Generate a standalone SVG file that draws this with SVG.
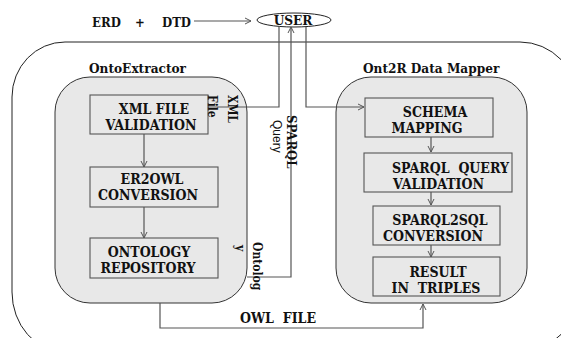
<svg xmlns="http://www.w3.org/2000/svg" width="561" height="338" viewBox="0 0 561 338">
<style>
  .t{font-family:"DejaVu Serif Condensed","DejaVu Serif","Liberation Serif",serif;font-weight:bold;fill:#111}
  .bx{font-size:14px}
  .mid{text-anchor:middle}
  .ttl{font-size:13.5px}
  .lbl{font-size:12px}
  .sans{font-family:"Liberation Sans",Arial,sans-serif;font-size:12px;fill:#111}
  .cont{fill:#e8e8e8;stroke:#333;stroke-width:1}
  .box{fill:#e8e8e8;stroke:#555;stroke-width:1.1}
  .cn{fill:none;stroke:#555;stroke-width:1.2}
  .pre{white-space:pre}
</style>
<defs>
  <marker id="ah" markerWidth="8" markerHeight="8" refX="7" refY="4" orient="auto" markerUnits="userSpaceOnUse">
    <path d="M1,1 L7,4 L1,7" fill="none" stroke="#555" stroke-width="1"/>
  </marker>
</defs>
<rect width="561" height="338" fill="#fff"/>
<path d="M65,42 H520 A58,60 0 0 1 578,102 V292 A58,60 0 0 1 520,352 H65 A53,60 0 0 1 12,292 V97 A53,55 0 0 1 65,42 Z" fill="none" stroke="#222" stroke-width="1"/>

<g id="onto-extractor">
  <rect class="cont" x="55" y="77" width="192" height="226" rx="35"/>
  <text class="t ttl" x="89" y="73">OntoExtractor</text>
</g>
<g id="ont2r-mapper">
  <rect class="cont" x="336" y="77" width="191" height="226" rx="35"/>
  <text class="t ttl" x="363" y="73">Ont2R Data Mapper</text>
</g>

<g id="user">
  <ellipse cx="294" cy="20" rx="37" ry="7" fill="#fff" stroke="#222" stroke-width="1"/>
  <text class="t mid" x="293" y="25" font-size="13.5">USER</text>
</g>
<g id="erd-dtd">
  <text class="t" x="92" y="27" font-size="13">ERD</text>
  <text class="t" x="135" y="27" font-size="13">+</text>
  <text class="t" x="162" y="27" font-size="13">DTD</text>
</g>

<g id="xml-validation">
  <rect class="box" x="90" y="95" width="118" height="39"/>
  <text class="t bx mid" x="154" y="114">XML FILE</text>
  <text class="t bx mid" x="151" y="130">VALIDATION</text>
</g>
<g id="er2owl">
  <rect class="box" x="90" y="167" width="128" height="40"/>
  <text class="t bx mid" x="152" y="184">ER2OWL</text>
  <text class="t bx mid" x="148" y="200">CONVERSION</text>
</g>
<g id="ontology-repo">
  <rect class="box" x="90" y="238" width="128" height="40"/>
  <text class="t bx mid" x="149" y="257">ONTOLOGY</text>
  <text class="t bx mid" x="148" y="273">REPOSITORY</text>
</g>

<g id="schema-mapping">
  <rect class="box" x="365" y="98" width="128" height="39"/>
  <text class="t bx mid" x="435" y="117">SCHEMA</text>
  <text class="t bx mid" x="427" y="133">MAPPING</text>
</g>
<g id="sparql-validation">
  <rect class="box" x="364" y="153" width="148" height="39"/>
  <text class="t bx pre" x="392" y="173">SPARQL  QUERY</text>
  <text class="t bx" x="393" y="189">VALIDATION</text>
</g>
<g id="sparql2sql">
  <rect class="box" x="373" y="206" width="127" height="39"/>
  <text class="t bx mid" x="440" y="225">SPARQL2SQL</text>
  <text class="t bx mid" x="433" y="241">CONVERSION</text>
</g>
<g id="result-triples">
  <rect class="box" x="373" y="257" width="127" height="39"/>
  <text class="t bx mid" x="438" y="277">RESULT</text>
  <text class="t bx mid pre" x="436" y="293">IN  TRIPLES</text>
</g>

<g id="connectors">
  <line class="cn" x1="194" y1="21" x2="251" y2="21" marker-end="url(#ah)"/>
  <polyline class="cn" points="279,27 279,107 208,107"/>
  <polyline class="cn" points="247,277 291,277 291,27" marker-end="url(#ah)"/>
  <polyline class="cn" points="306,27 306,107 364,107" marker-end="url(#ah)"/>
  <line class="cn" x1="144" y1="134" x2="144" y2="167" marker-end="url(#ah)"/>
  <line class="cn" x1="144" y1="207" x2="144" y2="238" marker-end="url(#ah)"/>
  <line class="cn" x1="431" y1="137" x2="431" y2="152" marker-end="url(#ah)"/>
  <line class="cn" x1="431" y1="192" x2="431" y2="205" marker-end="url(#ah)"/>
  <line class="cn" x1="431" y1="245" x2="431" y2="257" marker-end="url(#ah)"/>
  <polyline class="cn" points="160,303 160,328 423,328 423,304" marker-end="url(#ah)"/>
  <text class="t pre" x="240" y="323" font-size="14">OWL  FILE</text>
  <text class="t lbl" transform="translate(228,95) rotate(90)">XML</text>
  <text class="t lbl" transform="translate(208,95) rotate(90)">File</text>
  <text class="t" font-size="13" transform="translate(287,115) rotate(90)">SPARQL</text>
  <text class="sans" transform="translate(273,120) rotate(90)">Query</text>
  <text class="t lbl" transform="translate(253,242) rotate(90)">Ontolog</text>
  <text class="t lbl" transform="translate(236,245) rotate(90)">y</text>
</g>
</svg>
